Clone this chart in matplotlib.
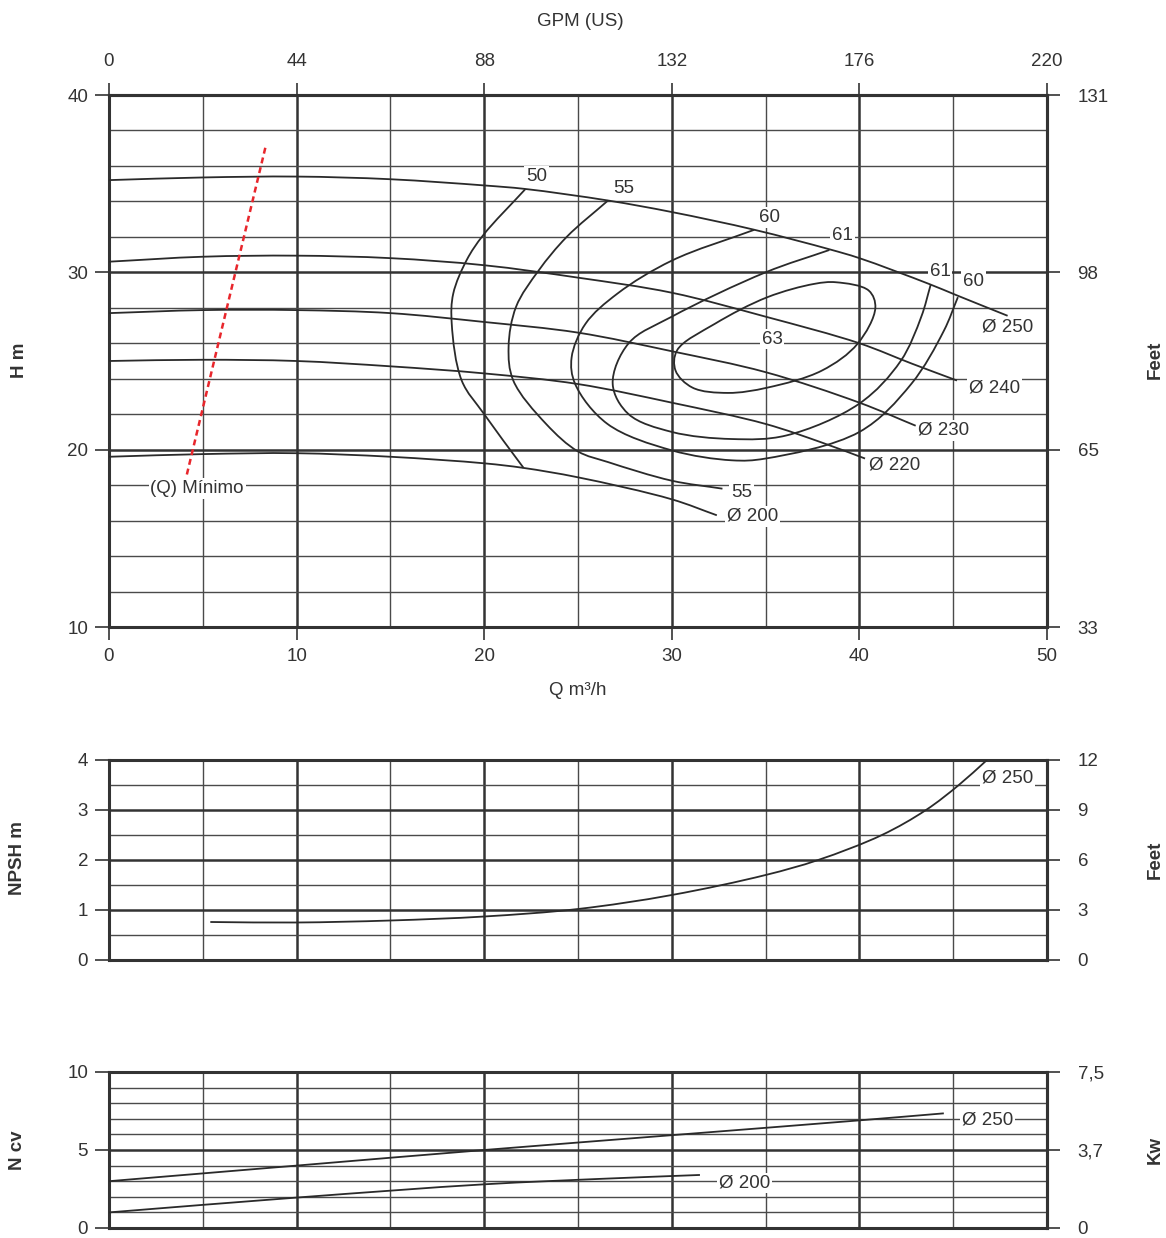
import numpy as np
import matplotlib
matplotlib.use("Agg")
import matplotlib.pyplot as plt
from matplotlib.path import Path
from matplotlib.patches import PathPatch

plt.rcParams['font.family'] = ['Liberation Sans', 'DejaVu Sans']

# ---------------------------------------------------------------------------
# Pump data (flow Q in m3/h)
# ---------------------------------------------------------------------------
# Head curves per impeller diameter
Q_250 = [0, 5, 10, 15, 20, 22.2, 26.6, 30, 34.4, 38.4, 40, 43.7, 45.2, 47.9]
H_250 = [35.2, 35.35, 35.4, 35.25, 34.9, 34.7, 34.05, 33.4, 32.4, 31.3, 30.8, 29.35, 28.7, 27.55]
Q_240 = [0, 5, 10, 15, 20, 25, 30, 35, 40, 42.8, 45.2]
H_240 = [30.6, 30.88, 30.94, 30.8, 30.4, 29.7, 28.85, 27.5, 26.0, 24.85, 23.9]
Q_230 = [0, 5, 10, 15, 20, 25, 30, 35, 40, 43]
H_230 = [27.7, 27.87, 27.87, 27.7, 27.2, 26.6, 25.55, 24.37, 22.65, 21.35]
Q_220 = [0, 5, 10, 15, 20, 25, 30, 35, 38, 40.3]
H_220 = [25.0, 25.07, 25.0, 24.7, 24.3, 23.7, 22.65, 21.45, 20.4, 19.5]
Q_200 = [0, 5, 10, 15, 20, 22.1, 25, 30, 32.4]
H_200 = [19.6, 19.75, 19.8, 19.6, 19.23, 18.97, 18.44, 17.2, 16.3]

# Efficiency iso-lines (%)
EFF50_Q = [22.2, 19.95, 19.07, 18.35, 18.27, 18.8, 20.0, 22.1]
EFF50_H = [34.7, 32.1, 30.7, 28.8, 27.1, 23.9, 22.0, 18.97]
EFF55_Q = [26.6, 24.4, 22.9, 21.7, 21.3, 21.55, 23.3, 25.0, 26.6, 30.0, 32.7]
EFF55_H = [34.05, 32.0, 30.1, 28.06, 25.8, 23.9, 21.45, 19.9, 19.3, 18.25, 17.8]
EFF60_Q = [34.4, 30.0, 27.1, 25.4, 24.66, 24.85, 26.56, 30.0, 33.2, 35.0, 40.0, 42.76, 44.5, 45.25]
EFF60_H = [32.4, 30.66, 28.8, 27.1, 25.2, 23.7, 21.46, 19.96, 19.4, 19.5, 21.0, 23.7, 26.7, 28.6]
EFF61_Q = [38.4, 35.0, 30.0, 27.7, 26.85, 27.7, 30.0, 33.2, 36.1, 40.0, 42.2, 43.3, 43.8]
EFF61_H = [31.26, 30.0, 27.5, 26.0, 23.7, 22.0, 21.0, 20.6, 20.8, 22.6, 25.0, 27.5, 29.3]
EFF63_Q = [38.76, 40.5, 40.85, 39.9, 38.0, 35.1, 33.0, 31.1, 30.2, 30.28, 32.3, 35.1, 37.6]
EFF63_H = [29.44, 28.97, 28.0, 25.97, 24.46, 23.5, 23.2, 23.5, 24.46, 25.6, 27.1, 28.6, 29.35]

# Minimum flow limit
QMIN_Q = [4.15, 8.35]
QMIN_H = [18.6, 37.1]

# NPSH required, impeller 250
NPSH_Q = [5.4, 10, 15, 20, 25, 30, 35, 37.8, 41.2, 43.55, 45.3, 46.8]
NPSH_M = [0.76, 0.75, 0.79, 0.87, 1.02, 1.3, 1.7, 2.0, 2.5, 3.0, 3.5, 4.0]

# Absorbed power (cv)
P250_Q = [0, 10, 20, 30, 40, 44.5]
P250_N = [3.0, 4.0, 5.0, 5.95, 6.9, 7.35]
P200_Q = [0, 10, 20, 26.2, 31.5]
P200_N = [1.0, 1.95, 2.8, 3.15, 3.4]

# Axis ticks and labels
Q_MAJOR = [0, 10, 20, 30, 40, 50]
Q_MINOR = [5, 15, 25, 35, 45]
GPM_TICKS = [0, 44, 88, 132, 176, 220]
H_MAJOR = [10, 20, 30, 40]
H_FEET = ["33", "65", "98", "131"]
NPSH_MAJOR = [0, 1, 2, 3, 4]
NPSH_FEET = ["0", "3", "6", "9", "12"]
N_MAJOR = [0, 5, 10]
N_KW = ["0", "3,7", "7,5"]

INK = '#333333'
CURVE = '#2a2a2a'
FS = 13.5
W, H = 1166, 1238


def smooth_path(ax, xs, ys, closed=False):
    """Centripetal Catmull-Rom through the points (computed in display space),
    returned as cubic Bezier segments in data space."""
    pts = ax.transData.transform(np.column_stack([xs, ys]).astype(float))
    n = len(pts)
    segs = n if closed else n - 1

    def get(i):
        if closed:
            return pts[i % n]
        if i < 0:
            return 2 * pts[0] - pts[1]
        if i >= n:
            return 2 * pts[-1] - pts[-2]
        return pts[i]

    verts = [pts[0]]
    codes = [Path.MOVETO]
    for i in range(segs):
        p0, p1, p2, p3 = get(i - 1), get(i), get(i + 1), get(i + 2)
        l1 = np.hypot(*(p1 - p0))
        l2 = np.hypot(*(p2 - p1))
        l3 = np.hypot(*(p3 - p2))
        d1, d2, d3 = np.sqrt(l1), np.sqrt(l2), np.sqrt(l3)
        b1 = (l1 * p2 - l2 * p0 + (2 * l1 + 3 * d1 * d2 + l2) * p1) / (3 * d1 * (d1 + d2))
        b2 = (l3 * p1 - l2 * p3 + (2 * l3 + 3 * d3 * d2 + l2) * p2) / (3 * d3 * (d3 + d2))
        verts += [b1, b2, p2]
        codes += [Path.CURVE4] * 3
    verts = ax.transData.inverted().transform(np.array(verts))
    return Path(verts, codes)


def draw_curve(ax, xs, ys, closed=False):
    ax.add_patch(PathPatch(smooth_path(ax, xs, ys, closed), fill=False,
                           edgecolor=CURVE, lw=1.3, zorder=3))


def label(ax, x, y, s):
    ax.text(x, y, s, ha='center', va='center', fontsize=FS, color=INK, zorder=4,
            bbox=dict(boxstyle='square,pad=0.1', fc='white', ec='none'))


def frame(ax, ylim, ymajor, yminor, right_labels, xlabels=True):
    ax.set_xlim(0, 50)
    ax.set_ylim(*ylim)
    ax.set_xticks(Q_MAJOR)
    ax.set_xticks(Q_MINOR, minor=True)
    ax.set_yticks(ymajor)
    ax.set_yticks(yminor, minor=True)
    ax.set_axisbelow(True)
    ax.grid(which='major', color=INK, lw=1.8)
    ax.grid(which='minor', color='#4a4a4a', lw=1.0)
    for sp in ax.spines.values():
        sp.set_linewidth(2.2)
        sp.set_color(INK)
    ax.tick_params(which='minor', length=0)
    ax.tick_params(axis='y', which='major', direction='out', length=10, width=1.2,
                   color=INK, labelsize=FS, labelcolor=INK, pad=5)
    if xlabels:
        ax.tick_params(axis='x', which='major', direction='out', length=9, width=1.2,
                       color=INK, labelsize=FS, labelcolor=INK, pad=6)
    else:
        ax.tick_params(axis='x', which='major', length=0, labelbottom=False)
    sec = ax.secondary_yaxis('right')
    sec.set_ticks(ymajor, labels=right_labels)
    sec.tick_params(direction='out', length=9, width=1.2, color=INK,
                    labelsize=FS, labelcolor=INK, pad=13)
    sec.spines['right'].set_linewidth(2.2)
    sec.spines['right'].set_color(INK)
    return sec


def fig_text(x, y, s, **kw):
    fig.text(x / W, 1 - y / H, s, ha='center', va='center', color=INK, **kw)


fig = plt.figure(figsize=(W / 100, H / 100), dpi=100)

# ---------------------------------------------------------------------------
# Head / efficiency chart
# ---------------------------------------------------------------------------
ax1 = fig.add_axes([109 / W, 1 - 627 / H, 938 / W, 532 / H])
frame(ax1, (10, 40), H_MAJOR, [12, 14, 16, 18, 22, 24, 26, 28, 32, 34, 36, 38], H_FEET)

top = ax1.secondary_xaxis('top', functions=(lambda q: q * 4.4, lambda g: g / 4.4))
top.set_ticks(GPM_TICKS, labels=[str(g) for g in GPM_TICKS])
top.tick_params(direction='out', length=9, width=1.2, color=INK,
                labelsize=FS, labelcolor=INK, pad=9)
top.spines['top'].set_linewidth(2.2)
top.spines['top'].set_color(INK)

for qs, hs in [(Q_250, H_250), (Q_240, H_240), (Q_230, H_230), (Q_220, H_220), (Q_200, H_200),
               (EFF50_Q, EFF50_H), (EFF55_Q, EFF55_H), (EFF60_Q, EFF60_H), (EFF61_Q, EFF61_H)]:
    draw_curve(ax1, qs, hs)
draw_curve(ax1, EFF63_Q, EFF63_H, closed=True)

ax1.plot(QMIN_Q, QMIN_H, color='#e8262c', lw=1.8, dashes=(2.4, 1.6), zorder=3)

label(ax1, 22.8, 35.4, "50")
label(ax1, 27.45, 34.75, "55")
label(ax1, 35.23, 33.1, "60")
label(ax1, 39.1, 32.05, "61")
label(ax1, 44.3, 30.07, "61")
label(ax1, 46.1, 29.5, "60")
label(ax1, 35.34, 26.24, "63")
label(ax1, 33.7, 17.6, "55")
label(ax1, 47.9, 26.9, "Ø 250")
label(ax1, 47.2, 23.5, "Ø 240")
label(ax1, 44.5, 21.1, "Ø 230")
label(ax1, 41.9, 19.13, "Ø 220")
label(ax1, 34.3, 16.25, "Ø 200")
label(ax1, 4.7, 17.83, "(Q) Mínimo")

fig_text(580, 21, "GPM (US)", fontsize=FS)
fig_text(578, 690, "Q m³/h", fontsize=FS)
fig_text(20, 360, "H m", fontsize=FS, fontweight='bold', rotation=90)
fig_text(1155, 360, "Feet", fontsize=FS, fontweight='bold', rotation=90)

# ---------------------------------------------------------------------------
# NPSH chart
# ---------------------------------------------------------------------------
ax2 = fig.add_axes([109 / W, 1 - 960 / H, 938 / W, 200 / H])
frame(ax2, (0, 4), NPSH_MAJOR, [0.5, 1.5, 2.5, 3.5], NPSH_FEET, xlabels=False)
draw_curve(ax2, NPSH_Q, NPSH_M)
label(ax2, 47.9, 3.64, "Ø 250")
fig_text(18, 858, "NPSH m", fontsize=FS, fontweight='bold', rotation=90)
fig_text(1155, 860, "Feet", fontsize=FS, fontweight='bold', rotation=90)

# ---------------------------------------------------------------------------
# Power chart
# ---------------------------------------------------------------------------
ax3 = fig.add_axes([109 / W, 1 - 1228 / H, 938 / W, 156 / H])
frame(ax3, (0, 10), N_MAJOR, [1, 2, 3, 4, 6, 7, 8, 9], N_KW, xlabels=False)
draw_curve(ax3, P250_Q, P250_N)
draw_curve(ax3, P200_Q, P200_N)
label(ax3, 46.85, 6.92, "Ø 250")
label(ax3, 33.9, 2.88, "Ø 200")
fig_text(18, 1150, "N cv", fontsize=FS, fontweight='bold', rotation=90)
fig_text(1155, 1150, "Kw", fontsize=FS, fontweight='bold', rotation=90)

fig.savefig("out.png", dpi=100)
